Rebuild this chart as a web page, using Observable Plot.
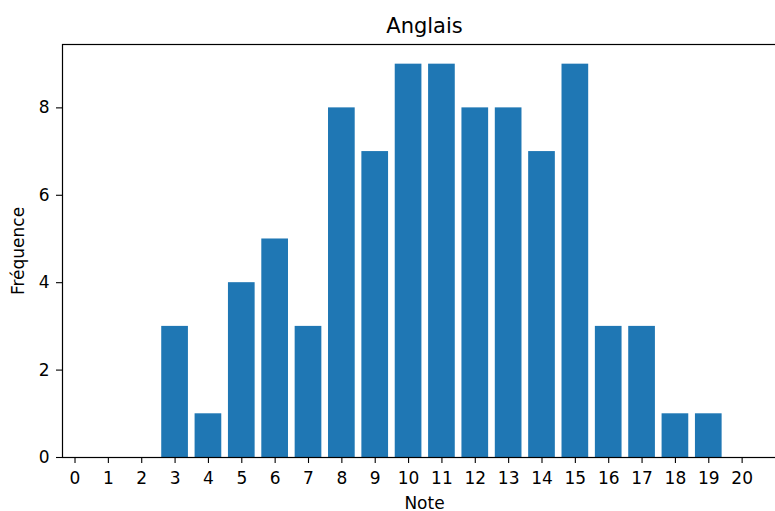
<!DOCTYPE html>
<html>
<head>
<meta charset="utf-8">
<script src="https://cdn.jsdelivr.net/npm/d3@7"></script>
<script src="https://cdn.jsdelivr.net/npm/@observablehq/plot@0.6"></script>
<style>
  html, body { margin: 0; padding: 0; background: #fff; overflow: hidden; }
  svg { display: block; }
</style>
</head>
<body>
<div id="chart"></div>
<script>
const notes = [0, 1, 2, 3, 4, 5, 6, 7, 8, 9, 10, 11, 12, 13, 14, 15, 16, 17, 18, 19, 20];
const frequences = [0, 0, 0, 3, 1, 4, 5, 3, 8, 7, 9, 9, 8, 8, 7, 9, 3, 3, 1, 1, 0];
const yTicks = [0, 2, 4, 6, 8];
const title = "Anglais";
const xLabel = "Note";
const yLabel = "Fréquence";

const data = notes.map((n, i) => ({note: n, freq: frequences[i]}));
const font = "DejaVu Sans, sans-serif";

const chart = Plot.plot({
  width: 775,
  height: 511,
  marginLeft: 62,
  marginRight: -11,
  marginTop: 44,
  marginBottom: 54,
  style: {fontFamily: font, background: "#fff", color: "#000"},
  x: {type: "linear", domain: [-0.375, 21.33]},
  y: {domain: [0, 9.45]},
  marks: [
    Plot.rectY(data, {x1: d => d.note - 0.4, x2: d => d.note + 0.4, y: "freq", fill: "#1f77b4"}),
    Plot.axisX({ticks: notes, tickFormat: d => String(d), tickSize: 6, tickPadding: 8, fontSize: 17, label: null, stroke: "#000", strokeWidth: 1.1, color: "#000"}),
    Plot.axisY({ticks: yTicks, tickFormat: d => String(d), tickSize: 6, tickPadding: 7, fontSize: 17, label: null, stroke: "#000", strokeWidth: 1.1}),
    Plot.frame({stroke: "#000", strokeWidth: 1.2}),
    Plot.text([title], {frameAnchor: "top", lineAnchor: "bottom", dy: -12, fontSize: 21, fill: "#000"}),
    Plot.text([xLabel], {frameAnchor: "bottom", lineAnchor: "bottom", dy: 51, fontSize: 17, fill: "#000"}),
    Plot.text([yLabel], {frameAnchor: "left", rotate: -90, textAnchor: "middle", lineAnchor: "middle", dx: -44, fontSize: 17, fill: "#000"})
  ]
});
document.getElementById("chart").appendChild(chart);
</script>
</body>
</html>
